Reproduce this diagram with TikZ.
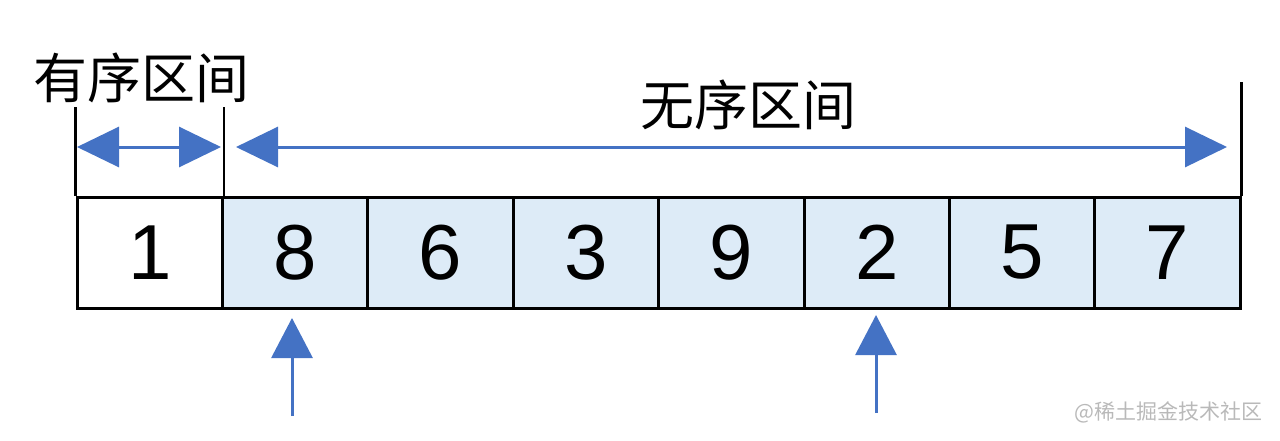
\documentclass[tikz,border=0pt]{standalone}
\usepackage{fontspec}
\setmainfont{Liberation Sans}
\newfontfamily\cjk{Noto Sans CJK SC}
\usetikzlibrary{arrows.meta,positioning}
\definecolor{cellblue}{HTML}{DDEBF7}
\definecolor{arrowblue}{HTML}{4472C4}
\begin{document}
\begin{tikzpicture}[x=1pt,y=-1pt,
        cell/.style={draw,line width=3pt,minimum width=145.4pt,minimum height=111pt,inner sep=0pt,
          font=\fontsize{78}{94}\selectfont},
        label/.style={font=\cjk\fontsize{54}{60}\selectfont},
        span/.style={arrowblue,line width=3pt,{Triangle[length=42pt,width=40pt]}-{Triangle[length=42pt,width=40pt]}},
        pointer/.style={arrowblue,line width=3pt,-{Triangle[length=40pt,width=41pt]}}]
  \useasboundingbox (0,0) rectangle (1280,440);
  % the array
  \node[cell,fill=white] (c1) at (149.7,252.5) {\raisebox{-2pt}{1}};
  \foreach \i/\v in {2/8,3/6,4/3,5/9,6/2,7/5,8/7}
    \node[cell,fill=cellblue] (c\i) at ({77+145.4*(\i-0.5)},252.5) {\raisebox{-2pt}{\v}};
  % borders of the two parts
  \coordinate[above=89pt of c1.north west] (t1);
  \coordinate[above=89pt of c1.north east] (t2);
  \coordinate[above=114pt of c8.north east] (t3);
  \draw[line width=2.5pt] (c1.north west) -- (t1);
  \draw[line width=2.5pt] (c1.north east) -- (t2);
  \draw[line width=2.5pt] (c8.north east) -- (t3);
  % spans
  \coordinate (s1) at (77,147);
  \coordinate (s2) at (221,147);
  \coordinate (s3) at (236,147);
  \coordinate (s4) at (1227,147);
  \draw[span] (s1) -- (s2);
  \draw[span] (s3) -- (s4);
  \node[label] (sorted) at (142,78) {有序区间};
  \node[label] (unsorted) at (748,105) {无序区间};
  % pointers
  \coordinate (p1) at (292,416);
  \coordinate (q1) at (292,318);
  \coordinate (p2) at (876,413);
  \coordinate (q2) at (876,315);
  \draw[pointer] (p1) -- (q1);
  \draw[pointer] (p2) -- (q2);
  \node[text=gray!55,font=\cjk\fontsize{21}{24}\selectfont,anchor=east] (mark) at (1266,412) {@稀土掘金技术社区};
\end{tikzpicture}
\end{document}
